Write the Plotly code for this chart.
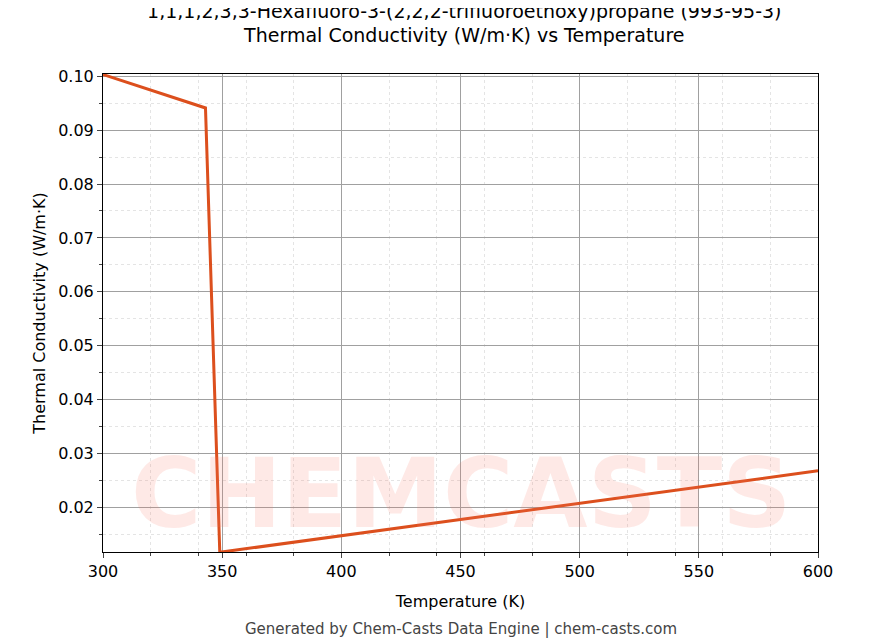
import plotly.graph_objects as go

temps = [300, 343, 349, 600]
conductivity = [0.1003, 0.0941, 0.0117, 0.0268]
x_ticks = [300, 350, 400, 450, 500, 550, 600]
y_ticks = [0.02, 0.03, 0.04, 0.05, 0.06, 0.07, 0.08, 0.09, 0.10]

fig = go.Figure()
fig.add_trace(go.Scatter(x=temps, y=conductivity, mode="lines",
                         line=dict(color="#dc4f1d", width=3), showlegend=False))

fig.add_annotation(text="<b>CHEMCASTS</b>", x=0.5, y=0.0, xref="paper", yref="paper",
                   yanchor="bottom", showarrow=False,
                   font=dict(size=96, color="rgba(250,120,100,0.16)", family="DejaVu Sans"))
fig.add_annotation(text="Generated by Chem-Casts Data Engine | chem-casts.com", x=0.5, y=-0.185,
                   xref="paper", yref="paper", showarrow=False,
                   font=dict(size=15, color="#444"))

axis_common = dict(showline=True, linecolor="black", mirror=True, ticks="outside",
                   gridcolor="#a0a0a0", gridwidth=0.6,
                   minor=dict(ticks="outside", showgrid=True, gridcolor="#e4e4e4", griddash="dot", ticklen=3),
                   tickfont=dict(size=16, color="black"), zeroline=False)
fig.update_xaxes(range=[300, 600], tickvals=x_ticks, title=dict(text="Temperature (K)", font=dict(size=16)),
                 **axis_common)
fig.update_yaxes(range=[0.01175, 0.1004], tickvals=y_ticks, tickformat=".2f",
                 title=dict(text="Thermal Conductivity (W/m·K)", font=dict(size=16), standoff=8), **axis_common)
fig.update_layout(
    width=886, height=644, plot_bgcolor="white", paper_bgcolor="white",
    font=dict(family="DejaVu Sans", color="black"),
    title=dict(text="1,1,1,2,3,3-Hexafluoro-3-(2,2,2-trifluoroethoxy)propane (993-95-3)<br>Thermal Conductivity (W/m·K) vs Temperature",
               x=0.515, y=0.985, font=dict(size=19)),
    margin=dict(l=95, r=76, t=66, b=100, autoexpand=False),
)
fig.write_html("out.html")
